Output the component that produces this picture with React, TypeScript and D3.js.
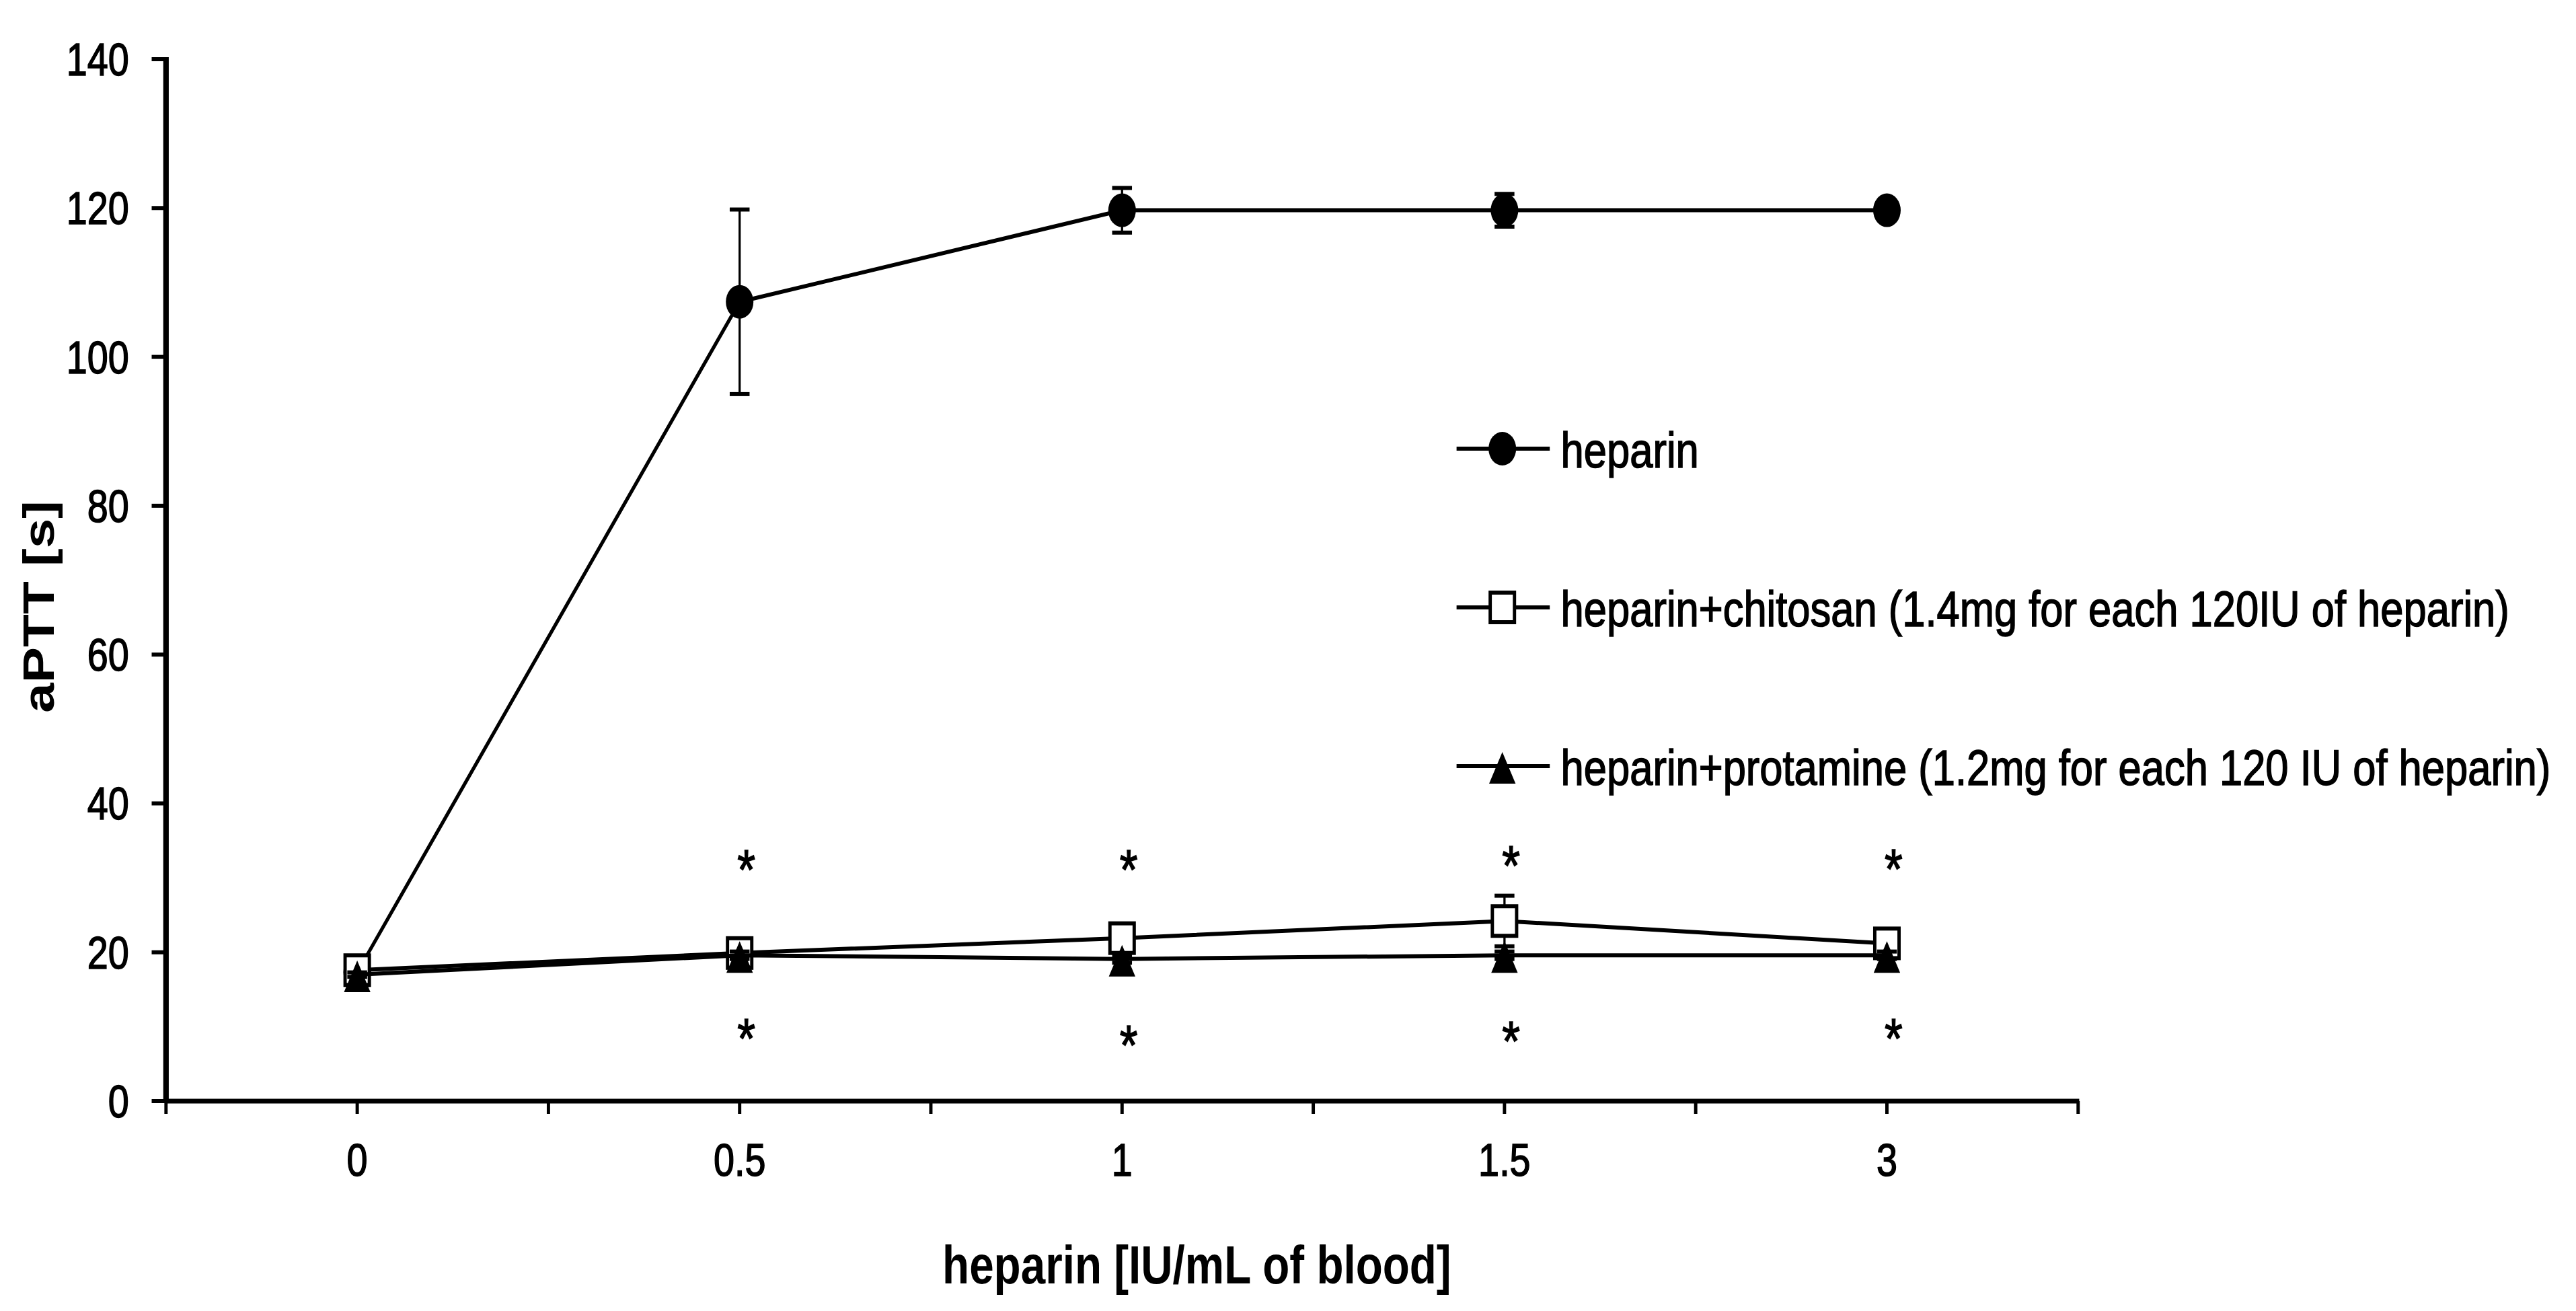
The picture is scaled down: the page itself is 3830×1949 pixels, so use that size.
import * as d3 from "d3";

// doses on the x axis (IU/mL of blood)
const categories = ["0", "0.5", "1", "1.5", "3"];

// aPTT [s] means and error bars
const heparin = [17.3, 107.4, 119.7, 119.7, 119.7];
const heparinErr = [0.5, 12.4, 3.0, 2.2, 0.6];
const chitosan = [17.6, 19.9, 21.9, 24.2, 21.2];
const chitosanErr = [0.5, 0.6, 0.8, 3.4, 0.5];
const protamine = [17.0, 19.6, 19.1, 19.6, 19.6];
const protamineErr = [0.3, 0.5, 0.5, 0.5, 0.5];

// significance marks
const starsUpper = [null, 32.7, 32.7, 33.3, 32.8];
const starsLower = [null, 10.0, 9.1, 9.7, 10.0];

const yTicks = [0, 20, 40, 60, 80, 100, 120, 140];

const legendLabels = [
    "heparin",
    "heparin+chitosan (1.4mg for each 120IU of heparin)",
    "heparin+protamine (1.2mg for each 120 IU of heparin)",
];

// the original figure is squeezed horizontally
const SX = 0.82;
const WIDTH = 3830;
const HEIGHT = 1949;
const FONT = "'Liberation Sans', Arial, sans-serif";

type Marker = "circle" | "square" | "triangle";

function MarkerShape({ kind, x, y }: { kind: Marker; x: number; y: number }) {
    if (kind === "circle") return <circle cx={x} cy={y} r={25} fill="#000" />;
    if (kind === "square")
        return <rect x={x - 22} y={y - 22} width={44} height={44} fill="#fff" stroke="#000" strokeWidth={6} />;
    return <path d={`M${x},${y - 21} L${x + 24},${y + 26} L${x - 24},${y + 26} Z`} fill="#000" />;
}

export default function App() {
    const x = d3.scaleBand<string>().domain(categories).range([301, 3768]);
    const bw = x.bandwidth();
    const cx = (c: string) => (x(c) ?? 0) + bw / 2;
    const y = d3.scaleLinear().domain([0, 140]).range([1637, 88]);

    const series: { values: number[]; err: number[]; kind: Marker }[] = [
        { values: heparin, err: heparinErr, kind: "circle" },
        { values: chitosan, err: chitosanErr, kind: "square" },
        { values: protamine, err: protamineErr, kind: "triangle" },
    ];

    const line = d3
        .line<number>()
        .x((_, i) => cx(categories[i]))
        .y((d) => y(d));

    const xTicks = categories
        .flatMap((c) => [x(c) ?? 0, cx(c)])
        .concat([x.range()[1]]);

    const legendY = [667, 903, 1139];
    const starSize = 84;
    // text in the source is a little heavier than the plain font
    const txt = { stroke: "#000", strokeWidth: 1.6 };

    return (
        <div style={{ position: "absolute", left: 0, top: 0 }}>
            <svg width={WIDTH} height={HEIGHT} style={{ display: "block", background: "#fff" }}>
                <rect width={WIDTH} height={HEIGHT} fill="#fff" />
                <g transform={`scale(${SX},1)`} fontFamily={FONT} fill="#000">
                    {/* y axis */}
                    <line x1={301} x2={301} y1={y(140) - 3} y2={y(0)} stroke="#000" strokeWidth={10} />
                    {yTicks.map((t) => (
                        <g key={t}>
                            <line x1={275} x2={301} y1={y(t)} y2={y(t)} stroke="#000" strokeWidth={6} />
                            <text x={234} y={y(t) + 24} fontSize={68} textAnchor="end" {...txt}>
                                {t}
                            </text>
                        </g>
                    ))}

                    {/* x axis */}
                    <line x1={301} x2={x.range()[1] + 2} y1={y(0)} y2={y(0)} stroke="#000" strokeWidth={7} />
                    {xTicks.map((t, i) => (
                        <line key={i} x1={t} x2={t} y1={y(0)} y2={y(0) + 19} stroke="#000" strokeWidth={6} />
                    ))}
                    {categories.map((c) => (
                        <text key={c} x={cx(c)} y={1748} fontSize={68} textAnchor="middle" {...txt}>
                            {c}
                        </text>
                    ))}

                    {/* axis titles */}
                    <text x={2170} y={1908} fontSize={80} fontWeight="bold" textAnchor="middle">
                        heparin [IU/mL of blood]
                    </text>
                    <text
                        transform={`translate(98,902) rotate(-90)`}
                        fontSize={80}
                        fontWeight="bold"
                        textAnchor="middle"
                    >
                        aPTT [s]
                    </text>

                    {/* series */}
                    {series.map((s, si) => (
                        <g key={si}>
                            <path d={line(s.values) ?? ""} fill="none" stroke="#000" strokeWidth={6} />
                            {s.values.map((v, i) => {
                                const px = cx(categories[i]);
                                const hi = y(v + s.err[i]);
                                const lo = y(v - s.err[i]);
                                return (
                                    <g key={i}>
                                        <line x1={px} x2={px} y1={hi} y2={lo} stroke="#000" strokeWidth={4} />
                                        <line x1={px - 18} x2={px + 18} y1={hi} y2={hi} stroke="#000" strokeWidth={6} />
                                        <line x1={px - 18} x2={px + 18} y1={lo} y2={lo} stroke="#000" strokeWidth={6} />
                                        <MarkerShape kind={s.kind} x={px} y={y(v)} />
                                    </g>
                                );
                            })}
                        </g>
                    ))}

                    {/* asterisks */}
                    {categories.map((c, i) => (
                        <g key={c}>
                            {starsUpper[i] != null && (
                                <text x={cx(c) + 12} y={y(starsUpper[i] as number) + starSize * 0.56} fontSize={starSize} textAnchor="middle" {...txt}>
                                    *
                                </text>
                            )}
                            {starsLower[i] != null && (
                                <text x={cx(c) + 12} y={y(starsLower[i] as number) + starSize * 0.56} fontSize={starSize} textAnchor="middle" {...txt}>
                                    *
                                </text>
                            )}
                        </g>
                    ))}

                    {/* legend */}
                    {legendLabels.map((label, i) => (
                        <g key={label}>
                            <line x1={2641} x2={2810} y1={legendY[i]} y2={legendY[i]} stroke="#000" strokeWidth={6} />
                            <MarkerShape kind={series[i].kind} x={2724} y={legendY[i]} />
                            <text x={2830} y={legendY[i] + 28} fontSize={75} {...txt}>
                                {label}
                            </text>
                        </g>
                    ))}
                </g>
            </svg>
        </div>
    );
}
